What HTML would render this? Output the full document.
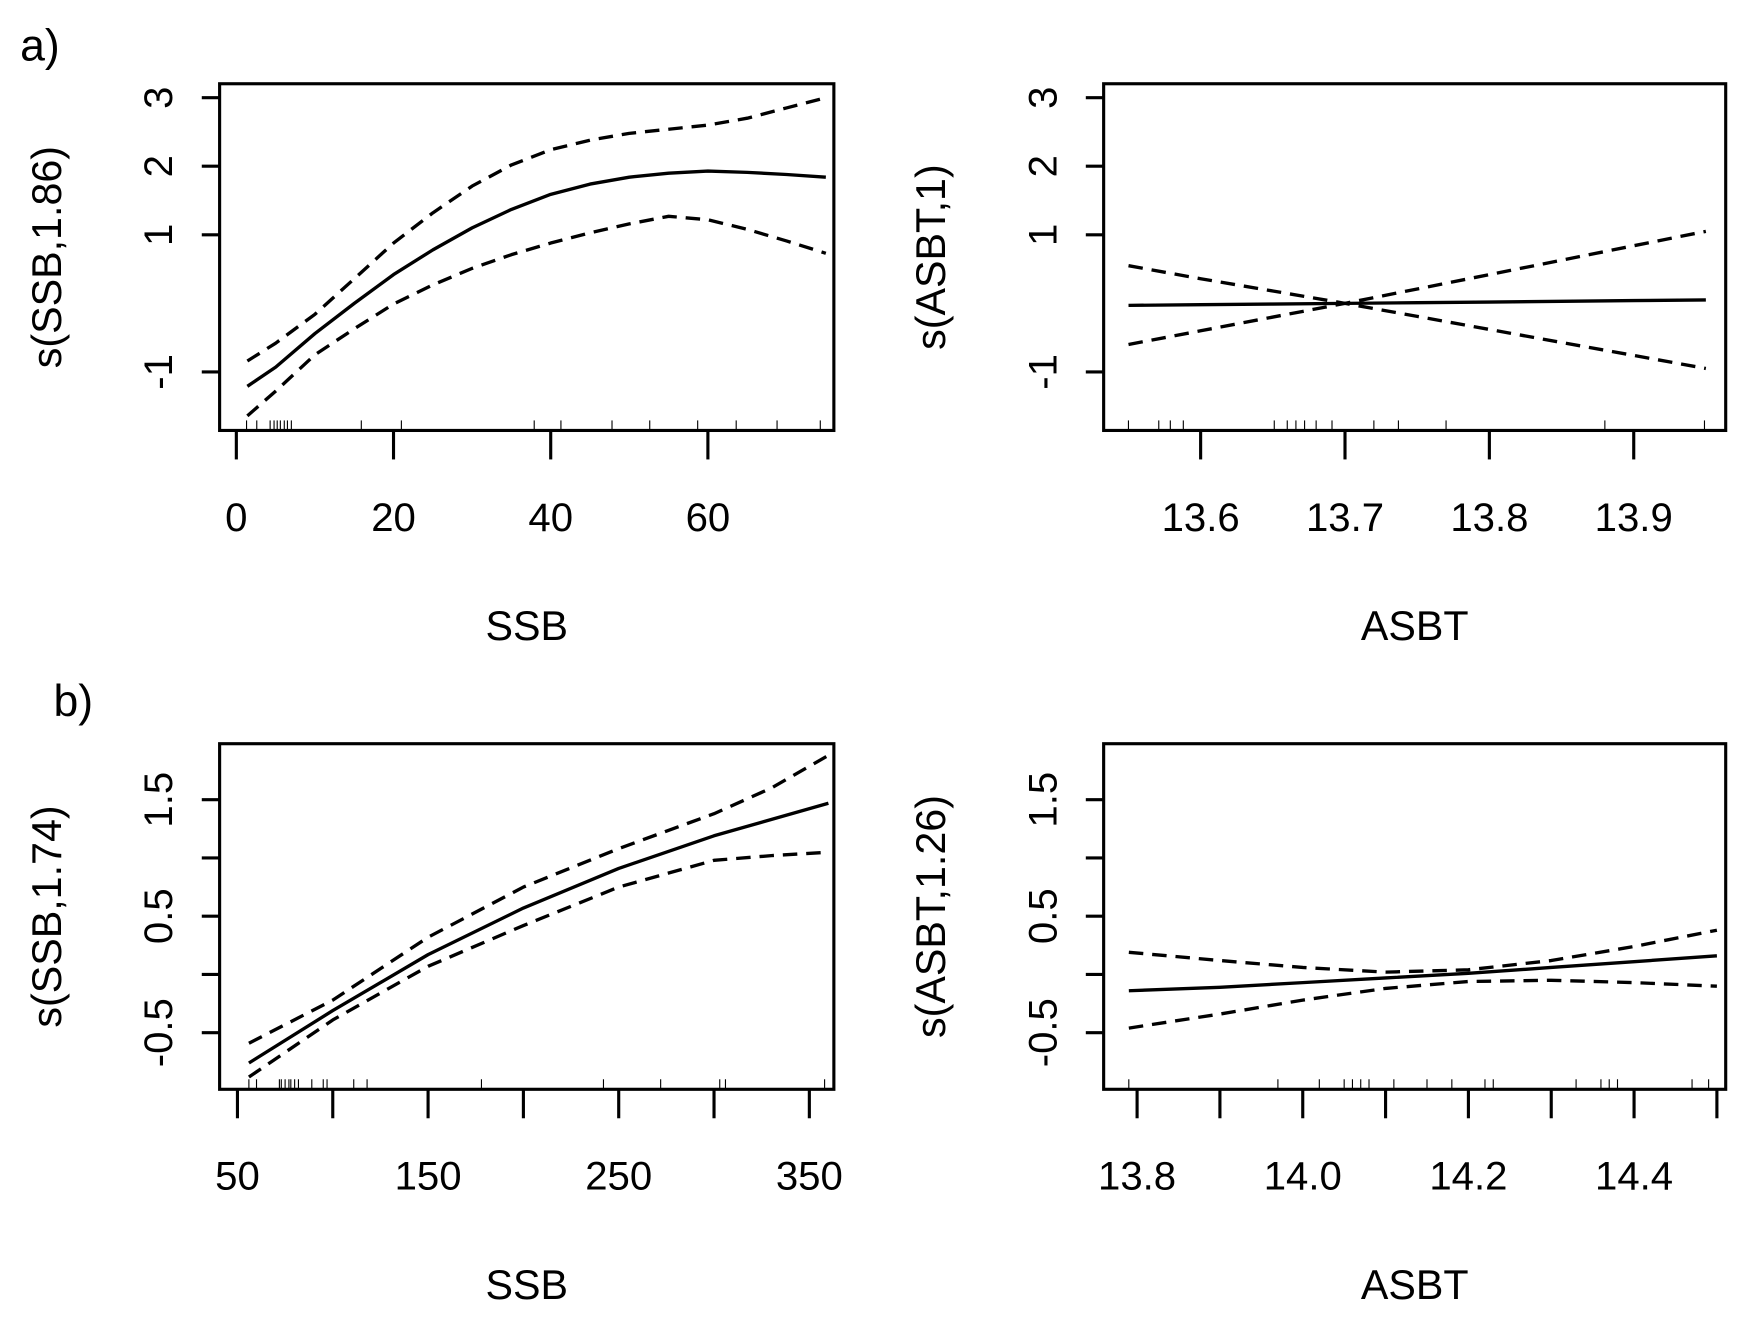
<!DOCTYPE html>
<html><head><meta charset="utf-8"><style>
html,body{margin:0;padding:0;background:#fff}
svg{display:block}
text{font-family:"Liberation Sans",Arial,sans-serif;fill:#000}
</style></head><body>
<svg id="fig" width="1748" height="1328" viewBox="0 0 1568 1191" xmlns="http://www.w3.org/2000/svg">
<text x="18" y="54" font-size="40">a)</text>
<text x="48" y="642" font-size="40">b)</text>
</svg>
<script>
// Panel a-left: s(SSB,1.86)
const aL_x = [1.4,5,10,15,20,25,30,35,40,45,50,55,60,65,70,75];
const aL_fit = [-1.21,-0.93,-0.44,0.0,0.42,0.78,1.1,1.37,1.59,1.74,1.84,1.9,1.93,1.91,1.88,1.84];
const aL_up = [-0.84,-0.58,-0.16,0.36,0.88,1.32,1.71,2.02,2.24,2.38,2.48,2.54,2.6,2.7,2.85,3.0];
const aL_lo = [-1.64,-1.28,-0.75,-0.37,-0.01,0.27,0.51,0.71,0.88,1.03,1.16,1.27,1.22,1.08,0.91,0.73];
const aL_rug = [1.3,2.6,4.3,4.8,5.2,5.6,6.1,6.5,7.0,15.9,21,37.9,41.3,47.8,52.6,58.7,63.6,68.8,74.3];
const aL_xticks = [0,20,40,60];
const aL_yticks = [3,2,1,-1];
// Panel a-right: s(ASBT,1)
const aR_x = [13.55,13.6,13.65,13.7,13.75,13.8,13.85,13.9,13.95];
const aR_fit = [-0.03,-0.02,-0.01,0.0,0.01,0.02,0.03,0.04,0.05];
const aR_up = [0.55,0.36,0.18,0.0,0.21,0.42,0.63,0.84,1.05];
const aR_lo = [-0.6,-0.4,-0.2,0.0,-0.19,-0.38,-0.57,-0.76,-0.95];
const aR_rug = [13.55,13.571,13.579,13.588,13.651,13.660,13.666,13.672,13.680,13.691,13.720,13.737,13.770,13.880,13.949];
const aR_xticks = [13.6,13.7,13.8,13.9];
const aR_yticks = [3,2,1,-1];
// Panel b-left: s(SSB,1.74)
const bL_x = [56,100,150,200,250,300,330,360];
const bL_fit = [-0.76,-0.31,0.17,0.57,0.91,1.19,1.33,1.47];
const bL_up = [-0.59,-0.22,0.32,0.75,1.08,1.38,1.6,1.88];
const bL_lo = [-0.88,-0.39,0.07,0.42,0.75,0.98,1.02,1.05];
const bL_rug = [56,60,72,73,75,77,78,80,82,89,95,97,111,118,178,242,272,303,306,358];
const bL_xticks = [50,100,150,200,250,300,350];
const bL_xlabels = ["50","","150","","250","","350"];
const bL_yticks = [1.5,1.0,0.5,0.0,-0.5];
const bL_ylabels = ["1.5","","0.5","","-0.5"];
// Panel b-right: s(ASBT,1.26)
const bR_x = [13.79,13.9,14.0,14.1,14.2,14.3,14.4,14.5];
const bR_fit = [-0.14,-0.11,-0.07,-0.03,0.01,0.06,0.11,0.16];
const bR_up = [0.19,0.12,0.06,0.02,0.04,0.12,0.24,0.38];
const bR_lo = [-0.46,-0.34,-0.22,-0.12,-0.06,-0.05,-0.07,-0.1];
const bR_rug = [13.79,13.97,14.02,14.05,14.06,14.07,14.08,14.11,14.15,14.18,14.22,14.23,14.33,14.36,14.37,14.38,14.47,14.49];
const bR_xticks = [13.8,13.9,14.0,14.1,14.2,14.3,14.4,14.5];
const bR_xlabels = ["13.8","","14.0","","14.2","","14.4",""];

const NS='http://www.w3.org/2000/svg';
const svg=document.getElementById('fig');
function mk(tag,attrs){const e=document.createElementNS(NS,tag);for(const k in attrs)e.setAttribute(k,attrs[k]);svg.appendChild(e);return e;}

function panel(p){
  const sx=v=>p.px0+(v-p.xv0)*p.kx;
  const sy=v=>p.py0-(v-p.yv0)*p.ky;
  const box=mk('rect',{x:p.L,y:p.T,width:p.R-p.L,height:p.B-p.T,fill:'none',stroke:'#000','stroke-width':2.8});
  
  
  p.yt.forEach((v,i)=>{
    const y=sy(v);
    const t=mk('line',{x1:p.L-16,x2:p.L,y1:y,y2:y,stroke:'#000','stroke-width':2.8});
    
    
    const lab=p.yl?p.yl[i]:String(v);
    if(lab){const tx=mk('text',{x:0,y:0,'font-size':36,'text-anchor':'middle',transform:`translate(${p.L-52},${y}) rotate(-90)`,'dominant-baseline':'middle'});
      tx.textContent=lab;
      
      }
  });
  p.xt.forEach((v,i)=>{
    const x=sx(v);
    const t=mk('line',{x1:x,x2:x,y1:p.B,y2:p.B+26,stroke:'#000','stroke-width':2.8});
    
    
    const lab=p.xl?p.xl[i]:String(v);
    if(lab){const tx=mk('text',{x:x,y:p.B+90,'font-size':36,'text-anchor':'middle'});
      tx.textContent=lab;
      
      }
  });
  p.rug.forEach(v=>{
    const x=sx(v);
    const r=mk('line',{x1:x,x2:x,y1:p.B-9,y2:p.B,stroke:'#000','stroke-width':1});
    
    
  });
  const path=(ys,dash,name)=>{
    const d=p.x.map((v,i)=>(i?'L':'M')+sx(v).toFixed(1)+','+sy(ys[i]).toFixed(1)).join(' ');
    const a={d:d,fill:'none',stroke:'#000','stroke-width':3,'stroke-linejoin':'round'};
    if(dash)a['stroke-dasharray']='13,8';
    const e=mk('path',a);
    
    
  };
  path(p.fit,false,p.id+'-fit-line');
  path(p.up,true,p.id+'-upper-ci');
  path(p.lo,true,p.id+'-lower-ci');
  const xt=mk('text',{x:(p.L+p.R)/2,y:p.B+188,'font-size':37,'text-anchor':'middle'});
  xt.textContent=p.xtitle;
  
  
  const yt=mk('text',{x:0,y:0,'font-size':37,'text-anchor':'middle','dominant-baseline':'middle',transform:`translate(${p.L-152},${(p.T+p.B)/2}) rotate(-90)`});
  yt.textContent=p.ytitle;
  
  
}

panel({id:'a-ssb',L:197,R:748,T:75,B:386,px0:212,xv0:0,kx:7.05,py0:272,yv0:0,ky:61.5,
  x:aL_x,fit:aL_fit,up:aL_up,lo:aL_lo,rug:aL_rug,xt:aL_xticks,yt:aL_yticks,xtitle:'SSB',ytitle:'s(SSB,1.86)'});
panel({id:'a-asbt',L:990,R:1548,T:75,B:386,px0:1077,xv0:13.6,kx:1295,py0:272,yv0:0,ky:61.5,
  x:aR_x,fit:aR_fit,up:aR_up,lo:aR_lo,rug:aR_rug,xt:aR_xticks,xl:aR_xticks.map(v=>v.toFixed(1)),yt:aR_yticks,xtitle:'ASBT',ytitle:'s(ASBT,1)'});
panel({id:'b-ssb',L:197,R:748,T:667,B:977,px0:213,xv0:50,kx:1.71,py0:874,yv0:0,ky:104.5,
  x:bL_x,fit:bL_fit,up:bL_up,lo:bL_lo,rug:bL_rug,xt:bL_xticks,xl:bL_xlabels,yt:bL_yticks,yl:bL_ylabels,xtitle:'SSB',ytitle:'s(SSB,1.74)'});
panel({id:'b-asbt',L:990,R:1548,T:667,B:977,px0:1020,xv0:13.8,kx:743,py0:874,yv0:0,ky:104.5,
  x:bR_x,fit:bR_fit,up:bR_up,lo:bR_lo,rug:bR_rug,xt:bR_xticks,xl:bR_xlabels,yt:bL_yticks,yl:bL_ylabels,xtitle:'ASBT',ytitle:'s(ASBT,1.26)'});
</script>
</body></html>
